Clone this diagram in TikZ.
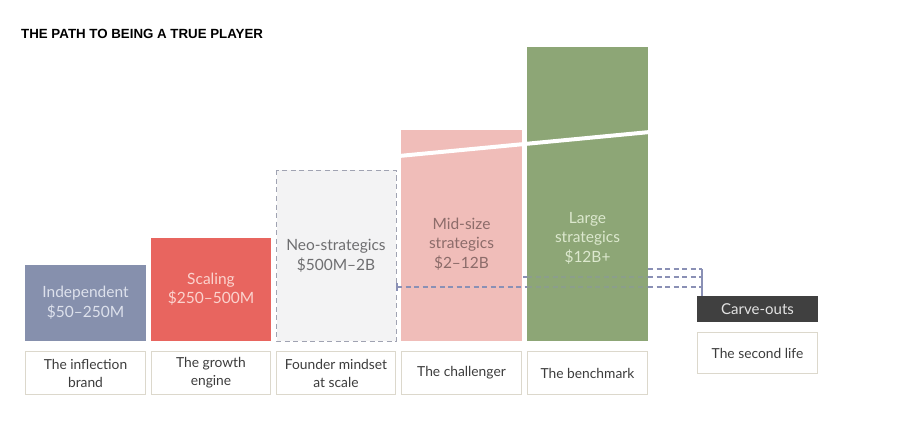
\documentclass[tikz,border=0pt]{standalone}
\usepackage{fontspec}
\setmainfont{Lato}
\newfontfamily\titlefont{Liberation Sans}
\definecolor{cIndep}{HTML}{8690AD}
\definecolor{cIndepT}{HTML}{DDE1EC}
\definecolor{cScal}{HTML}{E8655F}
\definecolor{cScalT}{HTML}{FBD3CE}
\definecolor{cNeo}{HTML}{F3F3F4}
\definecolor{cNeoB}{HTML}{A0A3B2}
\definecolor{cNeoT}{HTML}{6E6E70}
\definecolor{cMid}{HTML}{F0BDB9}
\definecolor{cMidT}{HTML}{8C6C6A}
\definecolor{cLarge}{HTML}{8DA676}
\definecolor{cLargeT}{HTML}{DCE8CE}
\definecolor{cLblB}{HTML}{DCD8CC}
\definecolor{cLblT}{HTML}{3C3C3C}
\definecolor{cCarve}{HTML}{404040}
\definecolor{cCarveT}{HTML}{E2E2E2}
\definecolor{cDash}{HTML}{8A90B5}
\tikzset{
  bartext/.style={align=center,font=\fontsize{15.5}{19.5}\selectfont,inner sep=0pt},
  lblbox/.style={draw=cLblB,line width=0.9pt,fill=white,align=center,text=cLblT,
    font=\fontsize{13.8}{18}\selectfont,inner sep=0pt},
  dashln/.style={draw=cDash,line width=1.1pt,dash pattern=on 5pt off 3.5pt},
  dashfaint/.style={dashln,draw opacity=0.35},
}
\begin{document}
\begin{tikzpicture}[x=1pt,y=-1pt]
\useasboundingbox (0,0) rectangle (900,425);
% title
\node[anchor=west,inner sep=0pt,font=\titlefont\bfseries\fontsize{13.3}{15}\selectfont] (title) at (21,34) {THE PATH TO BEING A TRUE PLAYER};
% bars
\fill[cIndep] (25,265) rectangle (146,341);
\fill[cScal] (151,238) rectangle (271,341);
\draw[fill=cNeo,draw=cNeoB,line width=1pt,dash pattern=on 5pt off 3.5pt] (276.5,170.5) rectangle (396,341);
\fill[cMid] (401,130) rectangle (522,341);
% dashed connectors behind green
\coordinate (c1) at (397,287);
\coordinate (c2) at (523,277);
\coordinate (c3) at (648,269);
\coordinate (vtop) at (702,269);
\coordinate (vb) at (702,287);
\coordinate (vm) at (702,277);
\draw[dashln] (c1) -- (527,287);
\draw[dashln] (c2) -- (527,277);
\fill[cLarge] (527,47) rectangle (648,341);
\draw[dashfaint] (527,287) -- (648,287);
\draw[dashfaint] (527,277) -- (648,277);
\draw[dashln] (648,287) -- (vb);
\draw[dashln] (648,277) -- (vm);
\draw[dashln] (c3) -- (vtop);
\draw[cDash,line width=1.1pt] (397,283) -- (397,291);
% white slash
\draw[white,line width=4pt] (399,156) -- (650,132);
% carve-outs
\node[fill=cCarve,text=cCarveT,minimum width=121pt,minimum height=26pt,inner sep=0pt,
  font=\fontsize{15}{17}\selectfont] (carve) at (757.5,309) {Carve-outs};
\draw[cDash,line width=1.1pt] (vtop) -- (carve.north -| vtop);
\node[lblbox,minimum width=120pt,minimum height=41pt] (second) at (757.5,353) {The second life};
% bar texts
\node[bartext,text=cIndepT] (tIndep) at (85.5,302.5) {Independent\\\$50–250M};
\node[bartext,text=cScalT] (tScal) at (211,289) {Scaling\\\$250–500M};
\node[bartext,text=cNeoT] (tNeo) at (336,256) {Neo-strategics\\\$500M–2B};
\node[bartext,text=cMidT] (tMid) at (461.5,244) {Mid-size\\strategics\\\$2–12B};
\node[bartext,text=cLargeT] (tLarge) at (587.5,238) {Large\\strategics\\\$12B+};
% labels
\node[lblbox,minimum width=120pt,minimum height=43pt] (l1) at (85.5,373) {The inflection\\brand};
\node[lblbox,minimum width=119pt,minimum height=43pt] (l2) at (211,373) {The growth\\engine};
\node[lblbox,minimum width=119pt,minimum height=43pt] (l3) at (336,373) {Founder mindset\\at scale};
\node[lblbox,minimum width=120pt,minimum height=43pt] (l4) at (461.5,373) {The challenger};
\node[lblbox,minimum width=120pt,minimum height=43pt] (l5) at (587.5,373) {The benchmark};
\end{tikzpicture}
\end{document}
